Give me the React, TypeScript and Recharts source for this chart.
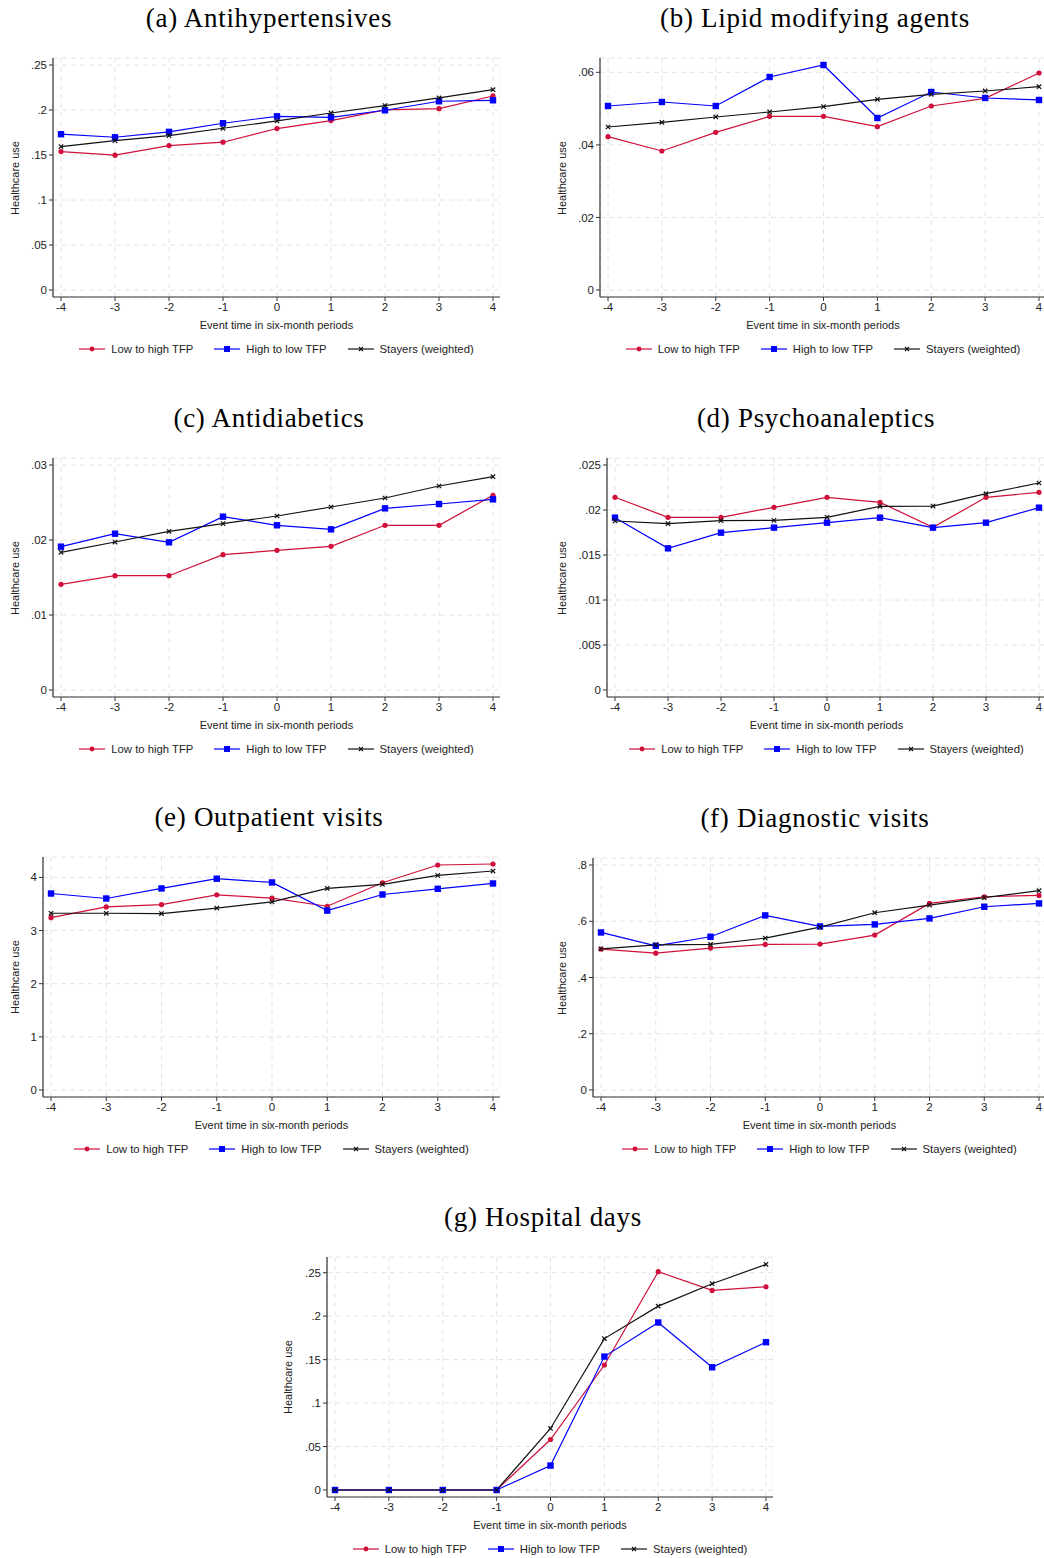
import React from "react";
import {
  LineChart,
  Line,
  XAxis,
  YAxis,
  CartesianGrid,
} from "recharts";

const PERIODS = [-4, -3, -2, -1, 0, 1, 2, 3, 4];

// (a) Antihypertensives
const A_LOW = [0.1538, 0.1498, 0.1605, 0.1642, 0.1794, 0.1882, 0.2001, 0.2015, 0.2156];
const A_HIGH = [0.1731, 0.1697, 0.1757, 0.1853, 0.193, 0.1919, 0.1997, 0.2097, 0.2108];
const A_STAY = [0.1594, 0.166, 0.1716, 0.1797, 0.1879, 0.1967, 0.2049, 0.2134, 0.2226];
const A_TICKS = [0, 0.05, 0.1, 0.15, 0.2, 0.25];

// (b) Lipid modifying agents
const B_LOW = [0.04227, 0.03832, 0.04346, 0.04787, 0.04787, 0.04502, 0.05072, 0.05283, 0.05982];
const B_HIGH = [0.05072, 0.05182, 0.05072, 0.05871, 0.06202, 0.04741, 0.05458, 0.05293, 0.05238];
const B_STAY = [0.04493, 0.04622, 0.04769, 0.04907, 0.05054, 0.05256, 0.05394, 0.05486, 0.05605];
const B_TICKS = [0, 0.02, 0.04, 0.06];

// (c) Antidiabetics
const C_LOW = [0.01409, 0.01524, 0.01524, 0.01804, 0.01862, 0.01916, 0.02196, 0.02196, 0.02596];
const C_HIGH = [0.01911, 0.02084, 0.01969, 0.02311, 0.02196, 0.02142, 0.02422, 0.0248, 0.02542];
const C_STAY = [0.01836, 0.01973, 0.02116, 0.02218, 0.0232, 0.0244, 0.0256, 0.0272, 0.02844];
const C_TICKS = [0, 0.01, 0.02, 0.03];

// (d) Psychoanaleptics
const D_LOW = [0.02141, 0.01919, 0.01919, 0.0203, 0.02141, 0.02085, 0.01807, 0.02141, 0.02196];
const D_HIGH = [0.01915, 0.01574, 0.01748, 0.01804, 0.01859, 0.01915, 0.01804, 0.01859, 0.02026];
const D_STAY = [0.01878, 0.01848, 0.01881, 0.01885, 0.01919, 0.02041, 0.02044, 0.02181, 0.023];
const D_TICKS = [0, 0.005, 0.01, 0.015, 0.02, 0.025];

// (e) Outpatient visits
const E_LOW = [3.243, 3.445, 3.489, 3.672, 3.609, 3.457, 3.899, 4.233, 4.252];
const E_HIGH = [3.697, 3.603, 3.792, 3.975, 3.905, 3.375, 3.678, 3.785, 3.886];
const E_STAY = [3.325, 3.325, 3.319, 3.42, 3.539, 3.792, 3.868, 4.038, 4.12];
const E_TICKS = [0, 1, 2, 3, 4];

// (f) Diagnostic visits
const F_LOW = [0.5009, 0.4866, 0.5045, 0.5175, 0.5187, 0.5507, 0.6635, 0.6872, 0.692];
const F_HIGH = [0.5602, 0.5128, 0.5448, 0.6208, 0.5816, 0.5887, 0.6101, 0.6516, 0.6635];
const F_STAY = [0.5021, 0.5163, 0.5175, 0.5401, 0.5792, 0.6303, 0.6576, 0.6837, 0.7086];
const F_TICKS = [0, 0.2, 0.4, 0.6, 0.8];

// (g) Hospital days
const G_LOW = [0, 0, 0, 0, 0.0581, 0.1438, 0.2512, 0.2296, 0.2338];
const G_HIGH = [0, 0, 0, 0, 0.0281, 0.1535, 0.1927, 0.1412, 0.17];
const G_STAY = [0, 0, 0, 0, 0.0708, 0.1742, 0.2115, 0.2373, 0.2596];
const G_TICKS = [0, 0.05, 0.1, 0.15, 0.2, 0.25];

const RED = "#d0103a";
const BLUE = "#0000ff";
const BLACK = "#111111";
const SANS = "'Liberation Sans', Arial, sans-serif";
const SERIF = "'Liberation Serif', 'Times New Roman', serif";

const fmt = (v: number) => (v === 0 ? "0" : String(+v.toFixed(4)).replace(/^0\./, "."));

const RedDot = (p: any) =>
  p.cx == null ? null : <circle cx={p.cx} cy={p.cy} r={2.6} fill={RED} />;
const BlueDot = (p: any) =>
  p.cx == null ? null : <rect x={p.cx - 3.2} y={p.cy - 3.2} width={6.4} height={6.4} fill={BLUE} />;
const CrossDot = (p: any) =>
  p.cx == null ? null : (
    <path
      d={`M${p.cx - 2.2},${p.cy - 2.2}L${p.cx + 2.2},${p.cy + 2.2}M${p.cx - 2.2},${p.cy + 2.2}L${p.cx + 2.2},${p.cy - 2.2}`}
      stroke={BLACK}
      strokeWidth={1.2}
    />
  );

function LegendIcon({ color, kind }: { color: string; kind: string }) {
  return (
    <svg width={26} height={10} style={{ display: "block" }}>
      <line x1={0} y1={5} x2={26} y2={5} stroke={color} strokeWidth={1.2} />
      {kind === "circle" && <circle cx={13} cy={5} r={2.4} fill={color} />}
      {kind === "square" && <rect x={10} y={2} width={6} height={6} fill={color} />}
      {kind === "cross" && (
        <path d="M11,3L15,7M11,7L15,3" stroke={color} strokeWidth={1.1} />
      )}
    </svg>
  );
}

const LEGEND = [
  { name: "Low to high TFP", color: RED, kind: "circle" },
  { name: "High to low TFP", color: BLUE, kind: "square" },
  { name: "Stayers (weighted)", color: BLACK, kind: "cross" },
];

interface PanelProps {
  title: string;
  titleX: number;
  low: number[];
  high: number[];
  stay: number[];
  ticks: number[];
  domain: [number, number | string];
  panelLeft: number;
  axisX: number;
  plotTop: number;
  plotBottom: number;
  plotRight: number;
  ylabelX: number;
}

function Panel(props: PanelProps) {
  const { title, titleX, low, high, stay, ticks, domain, panelLeft, axisX, plotTop, plotBottom, plotRight, ylabelX } = props;
  const data = PERIODS.map((t, i) => ({ t, low: low[i], high: high[i], stay: stay[i] }));
  const top = plotTop - 10;
  const width = plotRight - panelLeft;
  const height = plotBottom - top + 24;
  const midX = (axisX + plotRight) / 2;
  const midY = (plotTop + plotBottom) / 2;

  return (
    <>
      <div
        style={{
          position: "absolute",
          left: titleX - 200,
          width: 400,
          top: plotTop - 55,
          lineHeight: "30px",
          textAlign: "center",
          fontFamily: SERIF,
          fontSize: 27,
          letterSpacing: 0.7,
          color: "#000",
        }}
      >
        {title}
      </div>
      <div style={{ position: "absolute", left: panelLeft, top }}>
        <LineChart width={width} height={height} data={data} margin={{ top: 10, right: 0, left: 0, bottom: 0 }}>
          <CartesianGrid stroke="#e4e4e4" strokeDasharray="5 4" />
          <XAxis
            dataKey="t"
            type="number"
            domain={[-4, 4]}
            ticks={PERIODS}
            padding={{ left: 8, right: 7 }}
            height={24}
            tick={{ fill: "#222", fontSize: 11.5, fontFamily: SANS }}
            tickSize={4}
            axisLine={{ stroke: "#333", strokeWidth: 1.2 }}
            tickLine={{ stroke: "#333" }}
          />
          <YAxis
            type="number"
            domain={domain}
            ticks={ticks}
            padding={{ top: 7, bottom: 7 }}
            width={axisX - panelLeft}
            tickFormatter={fmt}
            tick={{ fill: "#222", fontSize: 11.5, fontFamily: SANS }}
            tickSize={4}
            axisLine={{ stroke: "#333", strokeWidth: 1.2 }}
            tickLine={{ stroke: "#333" }}
          />
          <Line dataKey="low" stroke={RED} strokeWidth={1.2} dot={<RedDot />} isAnimationActive={false} />
          <Line dataKey="high" stroke={BLUE} strokeWidth={1.2} dot={<BlueDot />} isAnimationActive={false} />
          <Line dataKey="stay" stroke={BLACK} strokeWidth={1.2} dot={<CrossDot />} isAnimationActive={false} />
        </LineChart>
      </div>
      <div
        style={{
          position: "absolute",
          left: ylabelX - 60,
          top: midY - 8,
          width: 120,
          height: 16,
          lineHeight: "16px",
          textAlign: "center",
          transform: "rotate(-90deg)",
          fontFamily: SANS,
          fontSize: 11,
          color: "#222",
        }}
      >
        Healthcare use
      </div>
      <div
        style={{
          position: "absolute",
          left: midX - 150,
          width: 300,
          top: plotBottom + 20,
          lineHeight: "16px",
          textAlign: "center",
          fontFamily: SANS,
          fontSize: 11,
          color: "#222",
        }}
      >
        Event time in six-month periods
      </div>
      <div
        style={{
          position: "absolute",
          left: midX - 250,
          width: 500,
          top: plotBottom + 44,
          height: 16,
          display: "flex",
          justifyContent: "center",
          alignItems: "center",
          fontFamily: SANS,
          fontSize: 11.3,
          color: "#222",
        }}
      >
        {LEGEND.map((l, i) => (
          <div key={l.name} style={{ display: "flex", alignItems: "center", marginLeft: i === 0 ? 0 : 21 }}>
            <LegendIcon color={l.color} kind={l.kind} />
            <span style={{ marginLeft: 6 }}>{l.name}</span>
          </div>
        ))}
      </div>
    </>
  );
}

export default function App() {
  return (
    <div
      style={{
        position: "absolute",
        left: 0,
        top: 0,
        width: 1044,
        height: 1558,
        overflow: "hidden",
        background: "#fff",
      }}
    >
      <Panel title="(a) Antihypertensives" titleX={269} low={A_LOW} high={A_HIGH} stay={A_STAY}
        ticks={A_TICKS} domain={[0, 0.25]} panelLeft={0} axisX={53} plotTop={58} plotBottom={297} plotRight={500} ylabelX={15} />
      <Panel title="(b) Lipid modifying agents" titleX={815} low={B_LOW} high={B_HIGH} stay={B_STAY}
        ticks={B_TICKS} domain={[0, "dataMax"]} panelLeft={547} axisX={600} plotTop={58} plotBottom={297} plotRight={1046} ylabelX={562} />
      <Panel title="(c) Antidiabetics" titleX={269} low={C_LOW} high={C_HIGH} stay={C_STAY}
        ticks={C_TICKS} domain={[0, 0.03]} panelLeft={0} axisX={53} plotTop={458} plotBottom={697} plotRight={500} ylabelX={15} />
      <Panel title="(d) Psychoanaleptics" titleX={816} low={D_LOW} high={D_HIGH} stay={D_STAY}
        ticks={D_TICKS} domain={[0, 0.025]} panelLeft={547} axisX={607} plotTop={458} plotBottom={697} plotRight={1046} ylabelX={562} />
      <Panel title="(e) Outpatient visits" titleX={269} low={E_LOW} high={E_HIGH} stay={E_STAY}
        ticks={E_TICKS} domain={[0, "dataMax"]} panelLeft={0} axisX={43} plotTop={857} plotBottom={1097} plotRight={500} ylabelX={15} />
      <Panel title="(f) Diagnostic visits" titleX={815} low={F_LOW} high={F_HIGH} stay={F_STAY}
        ticks={F_TICKS} domain={[0, 0.8]} panelLeft={547} axisX={593} plotTop={858} plotBottom={1097} plotRight={1046} ylabelX={562} />
      <Panel title="(g) Hospital days" titleX={543} low={G_LOW} high={G_HIGH} stay={G_STAY}
        ticks={G_TICKS} domain={[0, 0.26]} panelLeft={274} axisX={327} plotTop={1257} plotBottom={1497} plotRight={773} ylabelX={288} />
    </div>
  );
}
